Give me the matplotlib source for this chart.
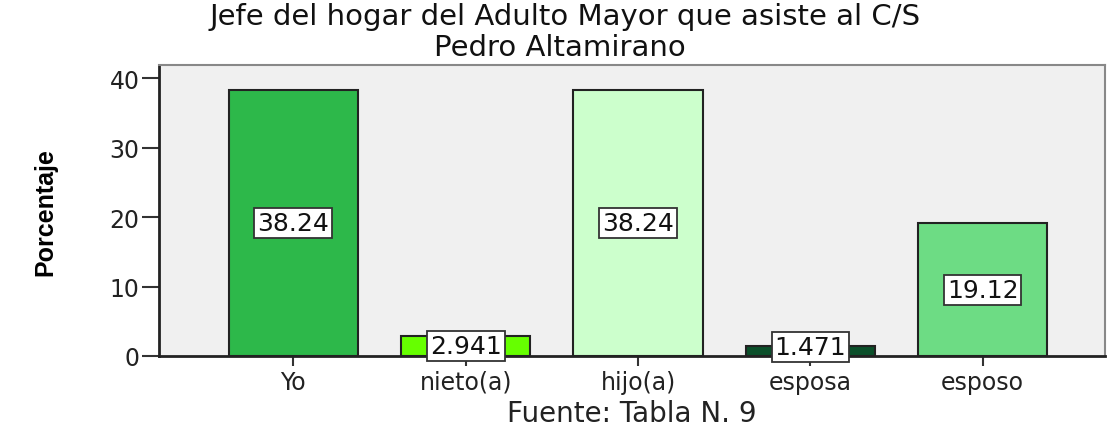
import matplotlib
matplotlib.use("Agg")
import matplotlib.pyplot as plt

categories = ["Yo", "nieto(a)", "hijo(a)", "esposa", "esposo"]
values = [38.24, 2.941, 38.24, 1.471, 19.12]
labels = ["38.24", "2.941", "38.24", "1.471", "19.12"]
colors = ["#2db84a", "#66ff00", "#ccffcc", "#0b4f2a", "#6ddc84"]
yticks = [0, 10, 20, 30, 40]

plt.rcParams["font.family"] = ["DejaVu Sans"]

fig = plt.figure(figsize=(11.09, 4.27), dpi=100)
ax = fig.add_axes([159 / 1109, 1 - 357 / 427, (1105 - 159) / 1109, (357 - 66) / 427])
ax.set_facecolor("#f0f0f0")

x = range(len(categories))
ax.bar(x, values, width=0.75, color=colors, edgecolor="#222222", linewidth=1.5, zorder=2)

# value boxes sit at half height (small bars keep them just above the axis)
for xi, v, lab in zip(x, values, labels):
    ax.text(xi, max(v / 2, 1.3), lab, ha="center", va="center", fontsize=18, color="#111111",
            bbox=dict(boxstyle="square,pad=0.12", facecolor="white", edgecolor="#333333", linewidth=1.3),
            zorder=3)

ax.set_xlim(-0.78, 4.71)
ax.set_ylim(0, 41.9)
ax.set_xticks(list(x))
ax.set_xticklabels(categories, fontsize=17)
ax.set_yticks(yticks)
ax.set_yticklabels([str(t) for t in yticks], fontsize=17)
ax.tick_params(axis="y", length=12, width=1.5, color="#333333", pad=2, labelcolor="#222222")
ax.tick_params(axis="x", length=7, width=1.5, color="#333333", pad=3, labelcolor="#222222")

for side in ["top", "right"]:
    ax.spines[side].set_color("#888888")
    ax.spines[side].set_linewidth(1.5)
for side in ["left", "bottom"]:
    ax.spines[side].set_color("#222222")
    ax.spines[side].set_linewidth(2)

ax.set_xlabel("Fuente: Tabla N. 9", fontsize=20, labelpad=4, color="#222222")
fig.text(45 / 1109, 1 - 212 / 427, "Porcentaje", rotation=90, ha="center", va="center",
         fontsize=18, fontweight="bold", family=["Liberation Sans Narrow", "Liberation Sans"])

fig.text(565 / 1109, 1 - 25 / 427, "Jefe del hogar del Adulto Mayor que asiste al C/S",
         ha="center", va="baseline", fontsize=21, color="#111111")
fig.text(560 / 1109, 1 - 56 / 427, "Pedro Altamirano",
         ha="center", va="baseline", fontsize=21, color="#111111")

fig.savefig("out.png", dpi=100)
